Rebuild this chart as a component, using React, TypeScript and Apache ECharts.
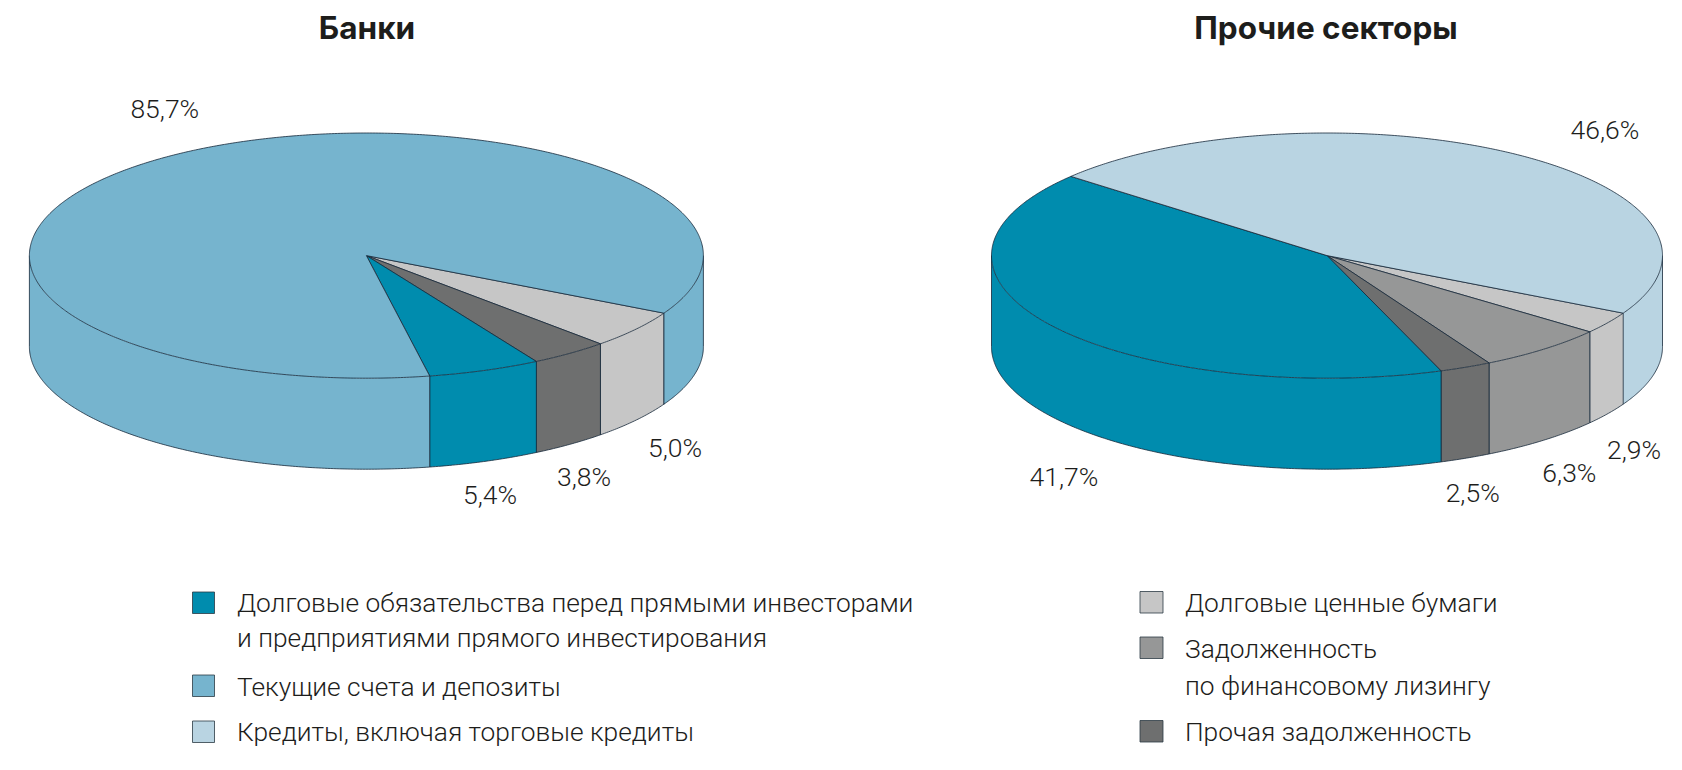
import React, { useEffect, useRef } from "react";
import * as echarts from "echarts";

// Categories in the clockwise order in which the slices are laid out
const categories = [
  "Долговые ценные бумаги",
  "Задолженность по финансовому лизингу",
  "Прочая задолженность",
  "Долговые обязательства перед прямыми инвесторами и предприятиями прямого инвестирования",
  "Текущие счета и депозиты",
  "Кредиты, включая торговые кредиты",
];
const banksValues = [5.0, null, 3.8, 5.4, 85.7, null];
const otherValues = [2.9, 6.3, 2.5, 41.7, null, 46.6];
const titles = ["Банки", "Прочие секторы"];
const legendLeft = [
  "Долговые обязательства перед прямыми инвесторами\nи предприятиями прямого инвестирования",
  "Текущие счета и депозиты",
  "Кредиты, включая торговые кредиты",
];
const legendRight = [
  "Долговые ценные бумаги",
  "Задолженность\nпо финансовому лизингу",
  "Прочая задолженность",
];

// Styles and layout
const colors = ["#c6c6c6", "#969797", "#6e6f6f", "#008cae", "#76b4ce", "#b9d4e2"];
const legendLeftColors = [colors[3], colors[4], colors[5]];
const legendRightColors = [colors[0], colors[1], colors[2]];
const LINE = "#16283a";
const TEXT = "#1d1d1b";
const LABEL_FONT = "Roboto";
const START_ANGLE = 28;
const DEPTH = 91;
const banksLayout = {
  cx: 366.4, cy: 255.6, rx: 337, ry: 122.6, hideStartEdge: false,
  labels: [[675, 447], null, [584, 476], [490, 494], [164.8, 108], null],
};
const otherLayout = {
  cx: 1327, cy: 255.6, rx: 335.5, ry: 122.6, hideStartEdge: true,
  labels: [[1634, 449], [1569.4, 472], [1472.7, 492], [1064, 476], null, [1605, 129.5]],
};
const titleX = [367, 1326];
const legendLeftRows = [
  { box: 592, text: [603, 638] },
  { box: 675, text: [687] },
  { box: 721, text: [732] },
];
const legendRightRows = [
  { box: 591.5, text: [603] },
  { box: 637, text: [649, 686] },
  { box: 720.5, text: [732] },
];

function point(l: any, deg: number, dy = 0) {
  const t = (deg * Math.PI) / 180;
  return [l.cx + l.rx * Math.cos(t), l.cy + l.ry * Math.sin(t) + dy];
}

function arcPoints(l: any, a: number, b: number, dy = 0) {
  const pts: number[][] = [];
  const steps = Math.max(2, Math.ceil((b - a) / 0.5));
  for (let i = 0; i <= steps; i++) pts.push(point(l, a + ((b - a) * i) / steps, dy));
  return pts;
}

function pieSeries(values: (number | null)[], l: any) {
  const total = values.reduce((s: number, v) => s + (v ?? 0), 0) as number;
  const spans: ({ a: number; b: number } | null)[] = [];
  let cursor = START_ANGLE;
  values.forEach((v) => {
    if (v == null) {
      spans.push(null);
      return;
    }
    const sweep = (v / total) * 360;
    spans.push({ a: cursor, b: cursor + sweep });
    cursor += sweep;
  });
  const stroke = { stroke: LINE, lineWidth: 0.8 };
  return {
    type: "custom",
    coordinateSystem: "none",
    silent: true,
    clip: false,
    data: values.map((v, i) => ({ name: categories[i], value: [i, v ?? 0] })),
    renderItem: (params: any) => {
      const i = params.dataIndex;
      const span = spans[i];
      if (!span) return { type: "group", children: [] };
      const children: any[] = [];
      const bands = [[0, 180], [360, 540]];
      bands.forEach(([lo, hi]) => {
        const a = Math.max(span.a, lo);
        const b = Math.min(span.b, hi);
        if (b <= a) return;
        const top = arcPoints(l, a, b);
        const bottom = arcPoints(l, a, b, DEPTH);
        children.push({
          type: "polygon",
          shape: { points: [...top, ...bottom.slice().reverse()] },
          style: { fill: colors[i], stroke: null },
        });
        children.push({ type: "polyline", shape: { points: bottom }, style: { ...stroke, fill: null } });
        [a, b].forEach((e) => {
          const hidden = l.hideStartEdge && Math.abs(e - START_ANGLE) < 0.01;
          if (hidden) return;
          children.push({
            type: "line",
            shape: {
              x1: point(l, e)[0], y1: point(l, e)[1],
              x2: point(l, e, DEPTH)[0], y2: point(l, e, DEPTH)[1],
            },
            style: stroke,
          });
        });
      });
      children.push({
        type: "polygon",
        shape: { points: [[l.cx, l.cy], ...arcPoints(l, span.a, span.b)] },
        style: { fill: colors[i], ...stroke },
      });
      const pos = l.labels[i];
      children.push({
        type: "text",
        z2: 10,
        style: {
          text: (values[i] as number).toFixed(1).replace(".", ",") + "%",
          x: pos[0],
          y: pos[1],
          align: "center",
          verticalAlign: "middle",
          fill: TEXT,
          font: `300 26.5px ${LABEL_FONT}`,
        },
      });
      return { type: "group", children };
    },
  };
}

function legendGraphics(names: string[], cols: string[], rows: any[], boxX: number, textX: number, boxW: number) {
  const out: any[] = [];
  names.forEach((name, i) => {
    out.push({
      type: "rect",
      shape: { x: boxX, y: rows[i].box, width: boxW, height: 21.5 },
      style: { fill: cols[i], stroke: "#2b3a44", lineWidth: 0.8 },
    });
    name.split("\n").forEach((line, j) => {
      out.push({
        type: "text",
        style: {
          text: line,
          x: textX,
          y: rows[i].text[j],
          align: "left",
          verticalAlign: "middle",
          fill: TEXT,
          font: `300 26.3px ${LABEL_FONT}`,
        },
      });
    });
  });
  return out;
}

export default function App() {
  const ref = useRef<HTMLDivElement>(null);
  useEffect(() => {
    document.body.style.margin = "0";
    const chart = echarts.init(ref.current!, null, { renderer: "svg" });
    chart.setOption({
      animation: false,
      backgroundColor: "#ffffff",
      series: [pieSeries(banksValues, banksLayout), pieSeries(otherValues, otherLayout)],
      graphic: [
        ...titles.map((t, i) => ({
          type: "text",
          style: {
            text: t,
            x: titleX[i],
            y: 27.5,
            align: "center",
            verticalAlign: "middle",
            fill: TEXT,
            font: "700 31.5px Inter",
          },
        })),
        ...legendGraphics(legendLeft, legendLeftColors, legendLeftRows, 192.5, 237, 22),
        ...legendGraphics(legendRight, legendRightColors, legendRightRows, 1140, 1185, 23),
      ],
    });
    return () => chart.dispose();
  }, []);
  return <div ref={ref} style={{ position: "absolute", left: 0, top: 0, width: 1682, height: 770 }} />;
}
